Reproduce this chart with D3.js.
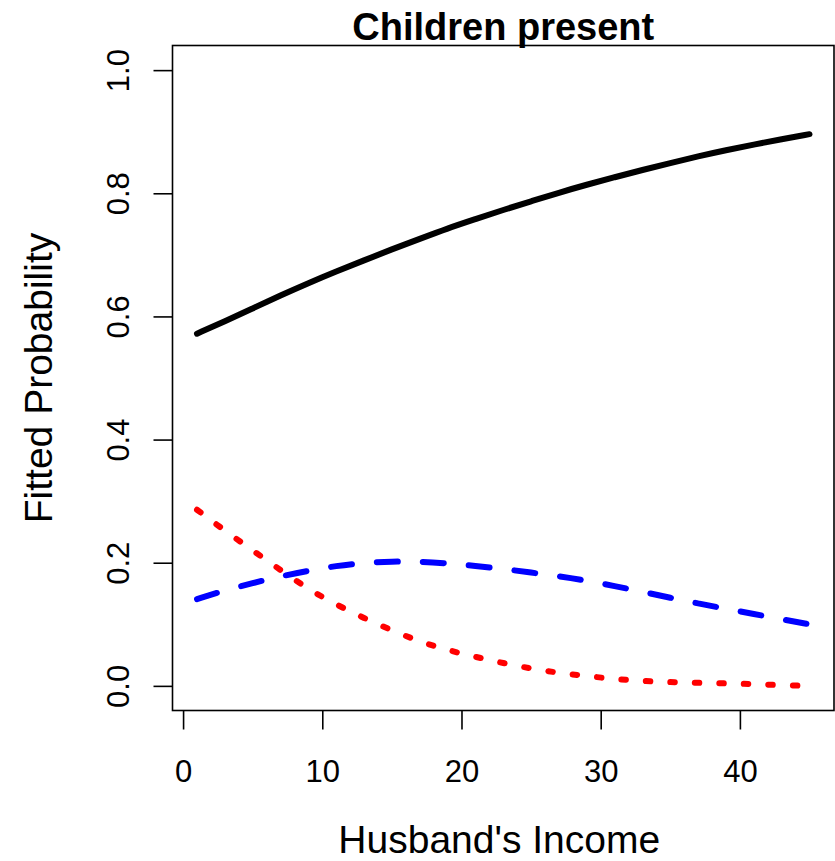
<!DOCTYPE html>
<html>
<head>
<meta charset="utf-8">
<script src="https://cdn.jsdelivr.net/npm/d3@7"></script>
<style>
  body { margin: 0; background: #fff; }
  text { font-family: "Liberation Sans", Arial, sans-serif; }
</style>
</head>
<body>
<div id="chart"></div>
<script>
var income = [1, 3, 5, 7, 9, 11, 13, 15, 17, 19, 21, 23, 25, 27, 29, 31, 33, 35, 37, 39, 41, 43, 45];

var notWorking = [0.572, 0.592, 0.613, 0.634, 0.654, 0.673, 0.691, 0.709, 0.726, 0.743, 0.758, 0.773,
                  0.787, 0.801, 0.814, 0.826, 0.838, 0.849, 0.860, 0.870, 0.879, 0.888, 0.896];
var partTime = [0.141, 0.155, 0.167, 0.178, 0.187, 0.195, 0.200, 0.202, 0.202, 0.199, 0.195, 0.190,
                0.184, 0.178, 0.171, 0.162, 0.153, 0.143, 0.134, 0.125, 0.117, 0.108, 0.100];
var fullTime = [0.286, 0.252, 0.220, 0.188, 0.157, 0.132, 0.110, 0.090, 0.072, 0.058, 0.047, 0.037,
                0.028, 0.021, 0.016, 0.011, 0.008, 0.006, 0.005, 0.004, 0.003, 0.001, 0.000];

var xTicks = [0, 10, 20, 30, 40];
var yTicks = [0.0, 0.2, 0.4, 0.6, 0.8, 1.0];

var width = 835,
    height = 861;

var plotLeft = 172.5,
    plotRight = 834,
    plotTop = 45.5,
    plotBottom = 710.5;

// R style: data range padded by 4% on each side
var xPad = (45 - 1) * 0.04;
var x = d3.scaleLinear()
          .domain([1 - xPad, 45 + xPad])
          .range([plotLeft, plotRight]);

var y = d3.scaleLinear()
          .domain([-0.04, 1.04])
          .range([plotBottom, plotTop]);

var svg = d3.select("#chart")
            .append("svg")
            .attr("width", width)
            .attr("height", height);

var line = d3.line()
             .x(function(d) { return x(d[0]); })
             .y(function(d) { return y(d[1]); })
             .curve(d3.curveBasis);

var series = [
    { values: notWorking, color: "#000000", dash: null },
    { values: partTime, color: "#0000FF", dash: "21,25" },
    { values: fullTime, color: "#FF0000", dash: "4.5,20" }
];

svg.selectAll(".series")
   .data(series)
   .enter()
   .append("path")
   .attr("class", "series")
   .attr("d", function(s) {
       return line(income.map(function(v, i) { return [v, s.values[i]]; }));
   })
   .attr("fill", "none")
   .attr("stroke", function(s) { return s.color; })
   .attr("stroke-width", 6)
   .attr("stroke-linecap", "round")
   .attr("stroke-linejoin", "round")
   .attr("stroke-dasharray", function(s) { return s.dash; });

// box
svg.append("rect")
   .attr("x", plotLeft)
   .attr("y", plotTop)
   .attr("width", plotRight - plotLeft)
   .attr("height", plotBottom - plotTop)
   .attr("fill", "none")
   .attr("stroke", "#000")
   .attr("stroke-width", 1.6);

var xAxis = svg.append("g")
               .attr("transform", "translate(0," + plotBottom + ")")
               .call(d3.axisBottom(x).tickValues(xTicks).tickSize(19).tickFormat(d3.format("d")));

xAxis.select(".domain").remove();
xAxis.selectAll(".tick line").attr("stroke", "#000").attr("stroke-width", 1.6);
xAxis.selectAll(".tick text")
     .attr("y", 71)
     .attr("dy", null)
     .attr("fill", "#000")
     .style("font-size", "31px");

var yAxis = svg.append("g")
               .attr("transform", "translate(" + plotLeft + ",0)")
               .call(d3.axisLeft(y).tickValues(yTicks).tickSize(19).tickFormat(d3.format(".1f")));

yAxis.select(".domain").remove();
yAxis.selectAll(".tick line").attr("stroke", "#000").attr("stroke-width", 1.6);
yAxis.selectAll(".tick text")
     .attr("x", null)
     .attr("dy", null)
     .attr("text-anchor", "middle")
     .attr("transform", "translate(-44,0) rotate(-90)")
     .attr("fill", "#000")
     .style("font-size", "31px");

svg.append("text")
   .text("Children present")
   .attr("x", (plotLeft + plotRight) / 2)
   .attr("y", 40)
   .attr("text-anchor", "middle")
   .style("font-size", "38px")
   .style("font-weight", "bold");

svg.append("text")
   .text("Husband's Income")
   .attr("x", (plotLeft + plotRight) / 2 - 4)
   .attr("y", 853)
   .attr("text-anchor", "middle")
   .style("font-size", "39px");

svg.append("text")
   .text("Fitted Probability")
   .attr("transform", "translate(52," + (plotTop + plotBottom) / 2 + ") rotate(-90)")
   .attr("text-anchor", "middle")
   .style("font-size", "39px");
</script>
</body>
</html>
